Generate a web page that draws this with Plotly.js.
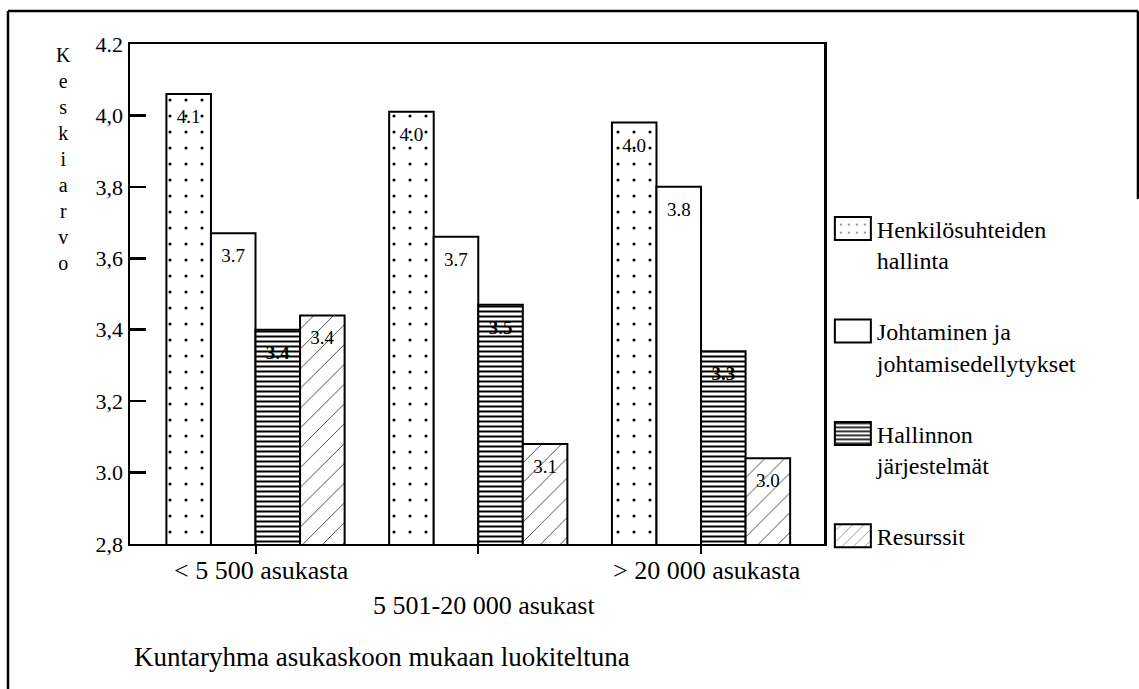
<!DOCTYPE html>
<html>
<head>
<meta charset="utf-8">
<script src="https://cdn.plot.ly/plotly-3.0.1.min.js"></script>
<style>
  html, body { margin: 0; padding: 0; background: #fff; }
  #chart { width: 1139px; height: 689px; }
</style>
</head>
<body>
<div id="chart"></div>
<script>
// Municipality size groups
const groups = ['< 5 500 asukasta', '5 501-20 000 asukast', '> 20 000 asukasta'];

// Mean scores per area
const henkilosuhteet = [4.06, 4.01, 3.98];
const johtaminen = [3.67, 3.66, 3.80];
const hallinto = [3.40, 3.47, 3.34];
const resurssit = [3.44, 3.08, 3.04];

const seriesNames = [
  'Henkilösuhteiden<br>hallinta',
  'Johtaminen ja<br>johtamisedellytykset',
  'Hallinnon<br>järjestelmät',
  'Resurssit'
];

const yTickVals = [2.8, 3.0, 3.2, 3.4, 3.6, 3.8, 4.0, 4.2];
const yTickText = ['2,8', '3.0', '3,2', '3,4', '3,6', '3,8', '4,0', '4.2'];

const xTitle = 'Kuntaryhma asukaskoon mukaan luokiteltuna';
const yTitle = 'Keskiarvo';

const FONT = 'Liberation Serif';

function barTrace(i, vals, pattern, bold) {
  return {
    type: 'bar',
    name: seriesNames[i],
    legendgroup: 'g' + i,
    x: groups,
    y: vals,
    marker: {
      color: '#ffffff',
      line: { color: '#000000', width: 2 },
      pattern: pattern
    },
    texttemplate: bold ? '<b>%{y:.1f}</b>' : '%{y:.1f}',
    textposition: 'inside',
    insidetextanchor: 'end',
    textangle: 0,
    constraintext: 'none',
    textfont: { family: FONT, size: 19, color: '#000000' },
    hoverinfo: 'skip'
  };
}

const traces = [
  barTrace(0, henkilosuhteet, { shape: '.', fgcolor: '#000', bgcolor: '#fff', size: 16, solidity: 0.03 }, false),
  barTrace(1, johtaminen, { shape: '' }, false),
  barTrace(2, hallinto, { shape: '-', fgcolor: '#000', bgcolor: '#fff', size: 5, solidity: 0.4 }, true),
  barTrace(3, resurssit, { shape: '/', fgcolor: '#000', bgcolor: '#fff', size: 14, solidity: 0.05 }, false)
];

// Group labels below the axis, alternating rows
const groupLabels = groups.map((g, i) => ({
  xref: 'x', yref: 'paper',
  x: g, y: i % 2 === 1 ? -0.122 : -0.052,
  xshift: 6,
  text: g, showarrow: false,
  xanchor: 'center', yanchor: 'middle',
  font: { family: FONT, size: 26, color: '#000' }
}));

const annotations = groupLabels.concat([
  {
    xref: 'paper', yref: 'paper', x: 0.003, y: -0.226,
    xanchor: 'left', yanchor: 'middle', showarrow: false,
    text: xTitle,
    font: { family: FONT, size: 27, color: '#000' }
  },
  {
    xref: 'paper', yref: 'paper', x: -0.0965, y: 0.77,
    xanchor: 'center', yanchor: 'middle', showarrow: false,
    align: 'center',
    text: yTitle.split('').join('<br>'),
    font: { family: FONT, size: 20, color: '#000' }
  }
]);

// Outer frame around the figure
const frameLine = { color: '#000', width: 2.5 };
const shapes = [
  { type: 'line', xref: 'paper', yref: 'paper', x0: -0.1758, x1: -0.1758, y0: 1.066, y1: -0.3, line: frameLine },
  { type: 'line', xref: 'paper', yref: 'paper', x0: -0.1758, x1: 1.4524, y0: 1.066, y1: 1.066, line: frameLine },
  { type: 'line', xref: 'paper', yref: 'paper', x0: 1.4524, x1: 1.4524, y0: 1.066, y1: 0.69, line: frameLine }
];

const layout = {
  width: 1139,
  height: 689,
  margin: { l: 130, r: 315, t: 44, b: 145, pad: 0 },
  paper_bgcolor: '#ffffff',
  plot_bgcolor: '#ffffff',
  font: { family: FONT, color: '#000' },
  barmode: 'group',
  bargap: 0.2,
  bargroupgap: 0,
  showlegend: true,
  legend: {
    x: 1.007, y: 0.675, xanchor: 'left', yanchor: 'top',
    valign: 'top',
    itemwidth: 38,
    tracegroupgap: 37,
    font: { family: FONT, size: 24, color: '#000' },
    bgcolor: 'rgba(0,0,0,0)'
  },
  xaxis: {
    type: 'category',
    range: [-0.5634, 2.552],
    showticklabels: false,
    ticks: 'outside', ticklen: 8, tickwidth: 2, tickcolor: '#000',
    showline: true, linecolor: '#000', linewidth: 2, mirror: true,
    showgrid: false, zeroline: false, fixedrange: true
  },
  yaxis: {
    range: [2.8, 4.2],
    tickvals: yTickVals,
    ticktext: yTickText,
    ticks: 'inside', ticklen: 16, tickwidth: 2.5, tickcolor: '#000',
    tickfont: { family: FONT, size: 22, color: '#000' },
    showline: true, linecolor: '#000', linewidth: 2.5, mirror: true,
    showgrid: false, zeroline: false, fixedrange: true
  },
  annotations: annotations,
  shapes: shapes
};

Plotly.newPlot('chart', traces, layout, { displayModeBar: false, staticPlot: true }).then(function (gd) {
  // Wider legend swatches
  gd.querySelectorAll('.legend .legendpoints path').forEach(function (p) {
    p.setAttribute('d', 'M18,11.5H-18V-11.5H18Z');
  });
  // Value labels sit a little lower inside the bar tops
  gd.querySelectorAll('.bartext').forEach(function (t) {
    t.setAttribute('transform', 'translate(0,9) ' + (t.getAttribute('transform') || ''));
  });
});
</script>
</body>
</html>
